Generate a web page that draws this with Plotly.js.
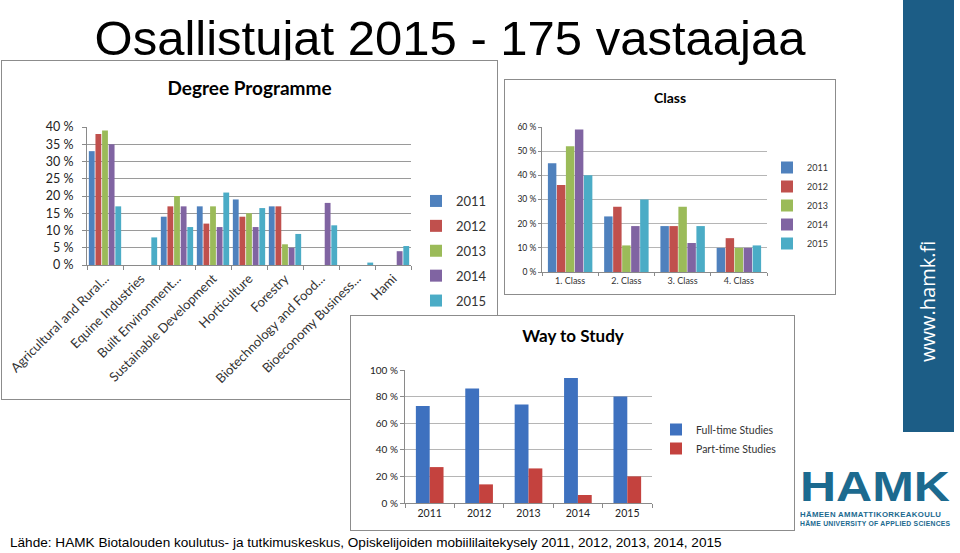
<!DOCTYPE html>
<html><head><meta charset="utf-8">
<script src="https://cdn.plot.ly/plotly-3.0.1.min.js"></script>
<style>
html,body{margin:0;padding:0;background:#fff;}
#page{position:relative;width:960px;height:553px;overflow:hidden;background:#fff;font-family:"Liberation Sans",Arial,sans-serif;}
.frame{position:absolute;border:1px solid #8c8c8c;background:#fff;}
#mainTitle{position:absolute;left:0;top:11px;width:900px;text-align:center;font-size:49px;line-height:54px;color:#000;white-space:nowrap;}
#side{position:absolute;left:903px;top:0;width:51px;height:432px;background:#1c5d86;}
#side span{position:absolute;left:14px;top:248px;height:114px;writing-mode:vertical-rl;transform:rotate(180deg);color:#fff;font-family:"Open Sans",sans-serif;font-size:20px;line-height:22px;white-space:nowrap;}
.logo{position:absolute;left:800px;color:#1c6a8f;font-family:"Liberation Sans",Arial,sans-serif;font-weight:bold;white-space:nowrap;}
#lg1{top:463px;font-size:42px;line-height:47px;transform:scaleX(1.19);transform-origin:left;letter-spacing:0px;}
#lg2{top:510.5px;font-size:7.8px;line-height:8.7px;letter-spacing:0.35px;}
#lg3{top:519.5px;font-size:6.8px;line-height:7.6px;letter-spacing:0.25px;}
#source{position:absolute;left:10px;top:535px;font-size:13.6px;line-height:16px;color:#000;white-space:nowrap;}
</style></head><body>
<div id="page">
  <div id="mainTitle">Osallistujat 2015 - 175 vastaajaa</div>
  <div id="deg" class="frame" style="left:1px;top:60px;width:495px;height:338px"></div>
  <div id="cls" class="frame" style="left:504px;top:79px;width:330px;height:214px"></div>
  <div id="way" class="frame" style="left:350px;top:315px;width:443px;height:214px"></div>
  <div id="side"><span>www.hamk.fi</span></div>
  <div id="lg1" class="logo">HAMK</div>
  <div id="lg2" class="logo">HÄMEEN AMMATTIKORKEAKOULU</div>
  <div id="lg3" class="logo">HÄME UNIVERSITY OF APPLIED SCIENCES</div>
  <div id="source">Lähde: HAMK Biotalouden koulutus- ja tutkimuskeskus, Opiskelijoiden mobiililaitekysely 2011, 2012, 2013, 2014, 2015</div>
</div>
<script>
// ---- data ----
const years = ["2011", "2012", "2013", "2014", "2015"];
const yearColors = ["#4F81BD", "#C0504D", "#9BBB59", "#8064A2", "#4BACC6"];

const degreeCats = ["Agricultural and Rural...", "Equine Industries", "Built Environment...", "Sustainable Development", "Horticulture", "Forestry", "Biotechnology and Food...", "Bioeconomy Business...", "Hami"];
const deg2011 = [33, null, 14, 17, 19, 17, null, null, null];
const deg2012 = [38, null, 17, 12, 14, 17, null, null, null];
const deg2013 = [39, null, 20, 17, 15, 6, null, null, null];
const deg2014 = [35, null, 17, 11, 11, 5, 18, null, 4];
const deg2015 = [17, 8, 11, 21, 16.5, 9, 11.5, 0.7, 5.5];

const classCats = ["1. Class", "2. Class", "3. Class", "4. Class"];
const cls2011 = [45, 23, 19, 10];
const cls2012 = [36, 27, 19, 14];
const cls2013 = [52, 11, 27, 10];
const cls2014 = [59, 19, 12, 10];
const cls2015 = [40, 30, 19, 11];

const wayCats = ["2011", "2012", "2013", "2014", "2015"];
const wayFullTime = [73, 86, 74, 94, 80];
const wayPartTime = [27, 14, 26, 6, 20];
const wayNames = ["Full-time Studies", "Part-time Studies"];
const wayColors = ["#3E71BF", "#C4423E"];

const cfg = {displayModeBar: false, staticPlot: true};
const FONT = "Lato, 'Open Sans', sans-serif";

function yearTraces(cats, series) {
  return series.map((vals, i) => ({
    type: "bar", x: cats, y: vals, name: years[i],
    legendgroup: "g" + i,
    marker: {color: yearColors[i], line: {width: 0}}
  }));
}

// ---- Degree Programme ----
(function () {
  const W = 495, H = 338;
  Plotly.newPlot("deg", yearTraces(degreeCats, [deg2011, deg2012, deg2013, deg2014, deg2015]), {
    width: W, height: H,
    margin: {l: 85, r: 86, t: 66, b: 134},
    paper_bgcolor: "#fff", plot_bgcolor: "rgba(0,0,0,0)",
    barmode: "group", bargap: 0.08, bargroupgap: 0.12,
    title: {text: "<b>Degree Programme</b>", font: {family: FONT, size: 19, color: "#000"},
            x: 0.5, xref: "container", y: 1 - 27 / H, yref: "container", yanchor: "middle"},
    xaxis: {type: "category", tickangle: -45, tickfont: {family: FONT, size: 13, color: "#333"},
            showgrid: false, showline: true, linecolor: "#8a8a8a", ticks: "outside", ticklen: 4,
            tickcolor: "#8a8a8a", tickson: "boundaries"},
    yaxis: {range: [0, 40], dtick: 5, ticksuffix: " %", tickfont: {family: FONT, size: 12.5, color: "#222"},
            gridcolor: "#9a9a9a", showline: true, linecolor: "#8a8a8a", ticks: "outside", ticklen: 4,
            tickcolor: "#8a8a8a", zeroline: false, ticklabelstandoff: 6},
    legend: {x: 414 / W, xref: "container", y: 1 - 125 / H, yref: "container", xanchor: "left", yanchor: "top",
             font: {family: FONT, size: 13, color: "#333"}, tracegroupgap: 5, traceorder: "grouped",
             bgcolor: "rgba(0,0,0,0)"},
    showlegend: true
  }, cfg);
})();

// ---- Class ----
(function () {
  const W = 330, H = 214;
  Plotly.newPlot("cls", yearTraces(classCats, [cls2011, cls2012, cls2013, cls2014, cls2015]), {
    width: W, height: H,
    margin: {l: 37, r: 57, t: 47, b: 22},
    paper_bgcolor: "#fff", plot_bgcolor: "rgba(0,0,0,0)",
    barmode: "group", bargap: 0.2, bargroupgap: 0.06,
    title: {text: "<b>Class</b>", font: {family: FONT, size: 14, color: "#000"},
            x: (670 - 505) / W, xref: "container", y: 1 - 18 / H, yref: "container", yanchor: "middle"},
    xaxis: {type: "category", tickfont: {family: FONT, size: 9, color: "#333"},
            showgrid: false, showline: true, linecolor: "#8a8a8a", ticks: "outside", ticklen: 3,
            tickcolor: "#8a8a8a", tickson: "boundaries"},
    yaxis: {range: [0, 60], dtick: 10, ticksuffix: " %", tickfont: {family: FONT, size: 8.5, color: "#222"},
            gridcolor: "#b5b5b5", showline: true, linecolor: "#8a8a8a", ticks: "outside", ticklen: 3,
            tickcolor: "#8a8a8a", zeroline: false},
    legend: {x: (767 - 505) / W, xref: "container", y: 1 - 73 / H, yref: "container", xanchor: "left", yanchor: "top",
             font: {family: FONT, size: 9, color: "#333"}, tracegroupgap: 0, traceorder: "grouped",
             bgcolor: "rgba(0,0,0,0)"},
    showlegend: true
  }, cfg);
})();

// ---- Way to Study ----
(function () {
  const W = 443, H = 214;
  const traces = [wayFullTime, wayPartTime].map((vals, i) => ({
    type: "bar", x: wayCats, y: vals, name: wayNames[i], legendgroup: "w" + i,
    marker: {color: wayColors[i], line: {width: 0}}
  }));
  Plotly.newPlot("way", traces, {
    width: W, height: H,
    margin: {l: 54, r: 142, t: 54, b: 27},
    paper_bgcolor: "#fff", plot_bgcolor: "rgba(0,0,0,0)",
    barmode: "group", bargap: 0.44, bargroupgap: 0.0,
    title: {text: "<b>Way to Study</b>", font: {family: FONT, size: 17, color: "#000"},
            x: (573 - 351) / W, xref: "container", y: 1 - 20 / H, yref: "container", yanchor: "middle"},
    xaxis: {type: "category", tickfont: {family: FONT, size: 10.5, color: "#222"},
            showgrid: false, showline: true, linecolor: "#8a8a8a", ticks: "outside", ticklen: 4,
            tickcolor: "#8a8a8a", tickson: "boundaries"},
    yaxis: {range: [0, 100], dtick: 20, ticksuffix: " %", tickfont: {family: FONT, size: 10, color: "#222"},
            gridcolor: "#b5b5b5", showline: true, linecolor: "#8a8a8a", ticks: "outside", ticklen: 4,
            tickcolor: "#8a8a8a", zeroline: false},
    legend: {x: (656 - 351) / W, xref: "container", y: 1 - 99 / H, yref: "container", xanchor: "left", yanchor: "top",
             font: {family: FONT, size: 10.5, color: "#333"}, tracegroupgap: 0, traceorder: "grouped",
             bgcolor: "rgba(0,0,0,0)"},
    showlegend: true
  }, cfg);
})();
</script>
</body></html>
